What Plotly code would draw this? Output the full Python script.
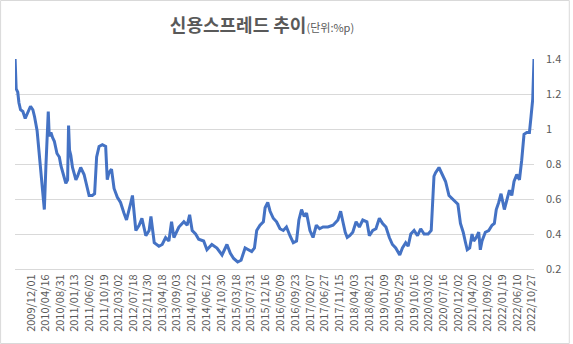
import plotly.graph_objects as go

dates = [
    "2009-07-05", "2009-07-15", "2009-07-30", "2009-08-10", "2009-08-25", "2009-09-16", "2009-10-08",
    "2009-11-03", "2009-11-27", "2009-12-19", "2010-01-04", "2010-01-28", "2010-02-20", "2010-03-05",
    "2010-03-30", "2010-04-06", "2010-04-21", "2010-05-07", "2010-05-13", "2010-05-22", "2010-06-07",
    "2010-06-23", "2010-07-09", "2010-08-03", "2010-08-25", "2010-09-09", "2010-10-04", "2010-10-25",
    "2010-11-11", "2010-11-20", "2010-11-29", "2010-12-11", "2010-12-27", "2011-01-13", "2011-01-28",
    "2011-02-13", "2011-03-14", "2011-04-15", "2011-05-16", "2011-06-01", "2011-07-01", "2011-07-23",
    "2011-08-11", "2011-09-03", "2011-10-04", "2011-11-04", "2011-11-19", "2011-12-05", "2011-12-29",
    "2012-01-22", "2012-02-22", "2012-03-23", "2012-04-24", "2012-05-18", "2012-06-28", "2012-07-13",
    "2012-08-14", "2012-09-14", "2012-10-10", "2012-11-16", "2012-12-17", "2013-01-03", "2013-02-03",
    "2013-03-19", "2013-04-19", "2013-05-21", "2013-06-21", "2013-07-16", "2013-08-07", "2013-09-23",
    "2013-11-09", "2013-12-10", "2014-01-02", "2014-01-26", "2014-02-27", "2014-03-28", "2014-05-14",
    "2014-06-14", "2014-07-30", "2014-09-16", "2014-11-03", "2014-12-19", "2015-01-20", "2015-02-20",
    "2015-03-30", "2015-05-01", "2015-06-08", "2015-07-09", "2015-08-09", "2015-09-04", "2015-09-25",
    "2015-10-26", "2015-11-27", "2015-12-13", "2016-01-07", "2016-01-29", "2016-02-28", "2016-03-30",
    "2016-05-01", "2016-06-01", "2016-07-01", "2016-08-03", "2016-09-03", "2016-10-04", "2016-10-26",
    "2016-11-20", "2016-12-15", "2017-01-06", "2017-02-07", "2017-03-08", "2017-04-08", "2017-05-09",
    "2017-06-10", "2017-07-26", "2017-09-12", "2017-10-28", "2017-11-23", "2017-12-14", "2018-01-05",
    "2018-01-24", "2018-02-16", "2018-03-17", "2018-04-17", "2018-05-18", "2018-06-19", "2018-07-28",
    "2018-08-20", "2018-09-21", "2018-10-21", "2018-11-22", "2018-12-23", "2019-01-23", "2019-02-24",
    "2019-03-25", "2019-04-25", "2019-06-02", "2019-06-27", "2019-07-28", "2019-08-20", "2019-09-14",
    "2019-10-15", "2019-11-16", "2019-12-16", "2020-01-17", "2020-02-24", "2020-03-24", "2020-04-19",
    "2020-05-04", "2020-06-05", "2020-07-06", "2020-08-06", "2020-09-07", "2020-10-08", "2020-11-08",
    "2020-11-30", "2020-12-24", "2021-01-19", "2021-02-10", "2021-02-26", "2021-03-21", "2021-04-12",
    "2021-04-28", "2021-05-22", "2021-06-14", "2021-06-29", "2021-07-15", "2021-08-15", "2021-09-16",
    "2021-10-17", "2021-11-08", "2021-11-26", "2021-12-19", "2022-01-10", "2022-02-10", "2022-03-05",
    "2022-03-30", "2022-04-21", "2022-05-12", "2022-06-07", "2022-07-02", "2022-07-23", "2022-08-14",
    "2022-09-09", "2022-10-04", "2022-10-19", "2022-11-04", "2022-11-16",
]

spread = [
    1.40, 1.23, 1.21, 1.15, 1.11, 1.10, 1.06,
    1.10, 1.13, 1.11, 1.07, 0.99, 0.84, 0.73,
    0.59, 0.54, 0.79, 0.99, 1.10, 0.96, 0.98,
    0.95, 0.93, 0.86, 0.84, 0.79, 0.74, 0.69,
    0.71, 1.02, 0.88, 0.85, 0.78, 0.74, 0.71,
    0.73, 0.78, 0.74, 0.67, 0.62, 0.62, 0.63,
    0.84, 0.90, 0.91, 0.90, 0.71, 0.75, 0.77,
    0.66, 0.61, 0.58, 0.52, 0.48, 0.58, 0.62,
    0.42, 0.45, 0.49, 0.39, 0.42, 0.50, 0.35,
    0.33, 0.34, 0.38, 0.36, 0.47, 0.38, 0.44,
    0.47, 0.45, 0.51, 0.42, 0.40, 0.37, 0.36,
    0.31, 0.34, 0.32, 0.28, 0.34, 0.29, 0.26,
    0.24, 0.25, 0.32, 0.31, 0.30, 0.32, 0.42,
    0.45, 0.47, 0.55, 0.58, 0.53, 0.49, 0.47,
    0.43, 0.42, 0.44, 0.39, 0.35, 0.36, 0.48,
    0.54, 0.50, 0.52, 0.42, 0.38, 0.45, 0.43,
    0.44, 0.44, 0.45, 0.48, 0.53, 0.47, 0.41,
    0.38, 0.39, 0.41, 0.47, 0.44, 0.48, 0.47,
    0.39, 0.42, 0.43, 0.49, 0.46, 0.44, 0.38,
    0.34, 0.32, 0.28, 0.32, 0.35, 0.33, 0.40,
    0.42, 0.39, 0.43, 0.40, 0.40, 0.42, 0.73,
    0.75, 0.78, 0.74, 0.70, 0.62, 0.60, 0.58,
    0.57, 0.46, 0.41, 0.35, 0.31, 0.32, 0.40,
    0.36, 0.38, 0.41, 0.31, 0.36, 0.41, 0.42,
    0.45, 0.46, 0.54, 0.58, 0.63, 0.54, 0.60,
    0.65, 0.62, 0.70, 0.74, 0.71, 0.82, 0.97,
    0.98, 0.98, 1.07, 1.17, 1.40,
]

tick_dates = [
    "2009-12-01", "2010-04-16", "2010-08-31", "2011-01-13", "2011-06-02", "2011-10-19",
    "2012-03-02", "2012-07-18", "2012-11-30", "2013-04-18", "2013-09-03", "2014-01-22",
    "2014-06-12", "2014-10-30", "2015-03-18", "2015-07-31", "2015-12-16", "2016-05-09",
    "2016-09-23", "2017-02-07", "2017-06-27", "2017-11-15", "2018-04-03", "2018-08-21",
    "2019-01-09", "2019-05-29", "2019-10-16", "2020-03-02", "2020-07-16", "2020-12-02",
    "2021-04-20", "2021-09-02", "2022-01-19", "2022-06-10", "2022-10-27",
]
tick_labels = [d.replace("-", "/") for d in tick_dates]

y_ticks = [0.2, 0.4, 0.6, 0.8, 1.0, 1.2, 1.4]

W, H = 573, 344
L, R, T, B = 15, 36, 59, 75
pw, ph = W - L - R, H - T - B

fig = go.Figure()
fig.add_trace(go.Scatter(
    x=dates, y=spread, mode="lines",
    line=dict(color="#4472C4", width=3),
    hoverinfo="skip", showlegend=False,
))

grey = "#595959"
fig.update_layout(
    width=W, height=H,
    margin=dict(l=L, r=R, t=T, b=B),
    paper_bgcolor="white", plot_bgcolor="white",
    font=dict(family="Noto Sans CJK KR, Noto Sans, sans-serif", color=grey),
    title=dict(
        text="<b>신용스프레드 추이</b><span style='font-size:11px'>(단위:%p)</span>",
        x=262 / W, xanchor="center", xref="container",
        y=1 - 26 / H, yanchor="middle", yref="container",
        font=dict(size=18, color=grey, family="Noto Sans CJK KR, sans-serif"),
    ),
    xaxis=dict(
        type="date",
        range=["2009-07-04", "2022-11-16"],
        tickvals=tick_dates, ticktext=tick_labels,
        tickangle=-90,
        tickfont=dict(size=11, color=grey, family="Noto Sans CJK KR, sans-serif"),
        showgrid=False, zeroline=False,
        showline=True, linecolor="#D9D9D9", linewidth=1,
        ticks="",
    ),
    yaxis=dict(
        side="right",
        range=[0.2, 1.4],
        tickvals=y_ticks,
        ticktext=[("%g" % v) for v in y_ticks],
        tickfont=dict(size=11, color=grey, family="Noto Sans CJK KR, sans-serif"),
        showgrid=True, gridcolor="#D9D9D9", gridwidth=1,
        zeroline=False, showline=False, ticks="",
        ticklabelstandoff=11,
    ),
    shapes=[dict(
        type="rect", xref="paper", yref="paper",
        x0=(-L + 0.5) / pw, x1=1 + (R - 0.5) / pw,
        y0=(-B + 0.5) / ph, y1=1 + (T - 0.5) / ph,
        line=dict(color="#D9D9D9", width=1), fillcolor="rgba(0,0,0,0)",
        layer="below",
    )],
)

fig.write_html("out.html")
